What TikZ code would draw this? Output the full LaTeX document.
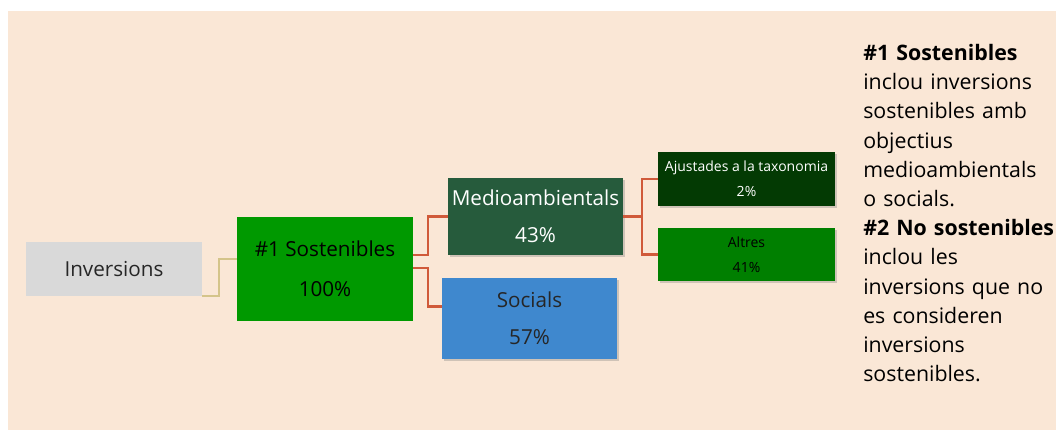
\documentclass[tikz,border=0pt]{standalone}
\usepackage{fontspec}
\setmainfont{Open Sans}
\usetikzlibrary{shadows}
\definecolor{bgcream}{HTML}{FAE7D6}
\definecolor{invgray}{HTML}{D9D9D9}
\definecolor{sostgreen}{HTML}{009900}
\definecolor{mediogreen}{HTML}{265B3C}
\definecolor{ajustgreen}{HTML}{033A03}
\definecolor{altresgreen}{HTML}{007F00}
\definecolor{socblue}{HTML}{3F88CE}
\definecolor{linkred}{HTML}{D05A3A}
\definecolor{linktan}{HTML}{D4C48A}
\begin{document}
\begin{tikzpicture}[x=0.75pt,y=-0.75pt,
    box/.style={inner sep=0pt,align=center,font={\fontsize{15.5}{28}\selectfont}},
    smallbox/.style={box,font={\fontsize{10.5}{19}\selectfont}},
    shade/.style={drop shadow={shadow xshift=1.2pt,shadow yshift=-1.2pt,opacity=0.35}},
    link/.style={linkred,line width=1.7pt}]
   \useasboundingbox (0,0) rectangle (1056,430);
   \fill[bgcream] (8,11) rectangle (1056,430);
   \node[box,fill=invgray,text=black!85,minimum width=132pt,minimum height=40.5pt] (inv) at (114,269) {Inversions};
   \node[box,fill=sostgreen,text=black,minimum width=132pt,minimum height=78pt,
     font={\fontsize{15.5}{30}\selectfont}] (sost) at (325,269) {\#1 Sostenibles\\100\%};
   \node[box,shade,fill=mediogreen,text=white,minimum width=131.25pt,minimum height=57.75pt] (medio) at (535.5,216.5) {Medioambientals\\43\%};
   \node[box,shade,fill=socblue,text=black!85,minimum width=131.25pt,minimum height=60.75pt] (soc) at (529.5,318.5) {Socials\\57\%};
   \node[smallbox,shade,fill=ajustgreen,text=white,minimum width=132.75pt,minimum height=40.5pt] (ajust) at (746.5,179) {Ajustades a la taxonomia\\2\%};
   \node[smallbox,shade,fill=altresgreen,text=black,minimum width=132.75pt,minimum height=39.75pt] (altres) at (746.5,254.5) {Altres\\41\%};
   % connectors
   \draw[linktan,line width=1.2pt] (inv.south east) -- ++(17,0) |- ([yshift=7.5pt]sost.west);
   \draw[link] ([yshift=10.5pt]sost.east) -- ++(15,0) |- (medio.west);
   \draw[link] ([yshift=0.5pt]sost.east) -- ++(15,0) |- ([yshift=9pt]soc.west);
   \draw[link] (medio.east) -- ++(19,0) |- (ajust.west);
   \draw[link] (medio.east) -- ++(19,0) |- (altres.west);
   % legend
   \node[anchor=north west,inner sep=0pt,text width=180pt,align=left,
     font={\fontsize{16}{21.9}\selectfont}] (legend) at (863,44)
     {\textbf{\#1 Sostenibles}\\inclou inversions\\sostenibles amb\\objectius\\medioambientals\\o socials.\\
      \textbf{\#2 No sostenibles}\\inclou les\\inversions que no\\es consideren\\inversions\\sostenibles.};
\end{tikzpicture}
\end{document}
